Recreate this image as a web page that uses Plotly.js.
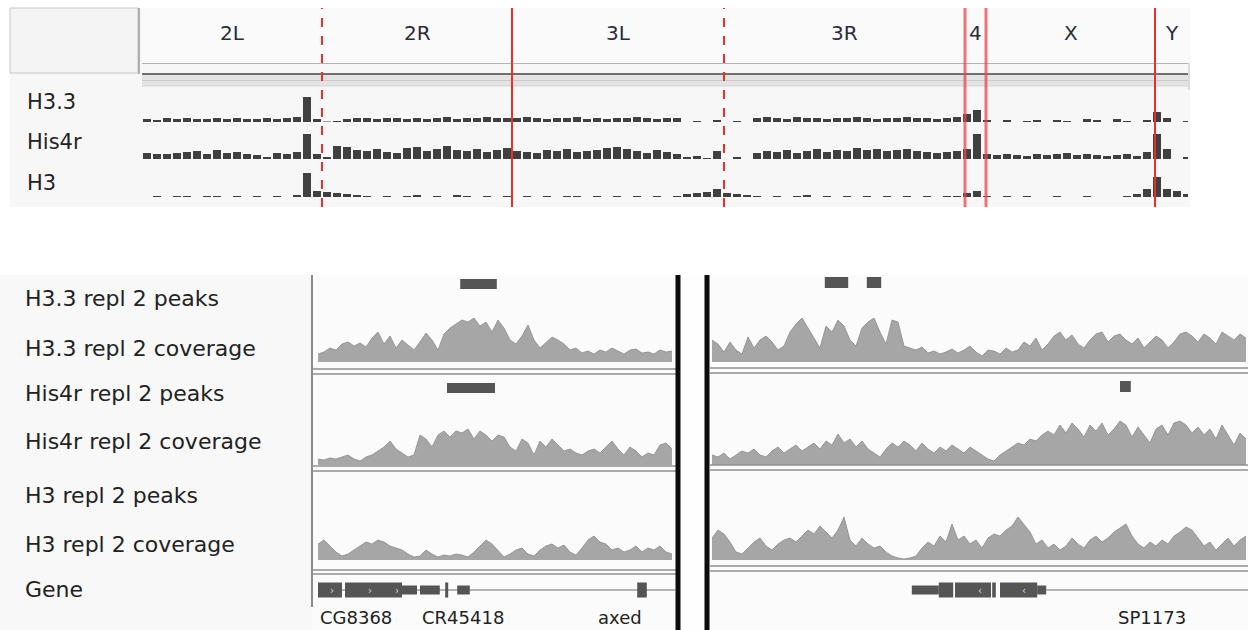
<!DOCTYPE html>
<html><head><meta charset="utf-8">
<script src="https://cdn.plot.ly/plotly-3.0.1.min.js"></script>
<style>html,body{margin:0;padding:0;background:#fff;}#chart{width:1248px;height:630px;}</style>
</head><body><div id="chart"></div>
<script>
// ---------- DATA ----------
const chromNames = ['2L','2R','3L','3R','4','X','Y'];
const chromBounds = [0,180,370,582,823,844,1013,1046];   // genome display units
const genomeTracks = ['H3.3','His4r','H3'];

// genome-wide signal, one value per 10-unit bin
const h33Genome = [3,2,4,3,4,3,3,4,3,4,3,3,4,3,4,5, 25, 3, 0.5,1,
  3,4,4,3,4,4,3,4,3,4,5,3,4,4,5,4,4,
  4,5,4,3,4,4,5,3,4,3,4,4,5,4,3,4,4,
  0,1,0,2,0,1,0,
  4,5,4,3,5,4,4,3,4,4,5,4,3,4,4,5,4,4,3,4,5,
  8,12, 2,
  0,2,0,1,2,0,2,1,0,3,2,0,3,1,0,2,
  10,4,0,1];
const his4rGenome = [6,5,5,6,7,8,5,9,6,7,5,4,2,6,5,7, 25, 5, 2,13,
  12,9,8,10,7,6,11,12,8,10,13,9,8,10,7,9,11,
  8,7,6,9,8,10,7,8,9,11,12,10,8,6,9,7,5,
  2,3,1,8,0,2,0,
  6,8,7,9,6,8,10,7,9,8,11,9,10,8,9,10,8,7,6,7,8,
  10,25, 5,
  4,5,4,3,5,4,5,6,4,5,4,3,4,5,3,7,
  25,10,0,2];
const h3Genome = [0,1,0,1,1,0,1,1,0,1,0,1,0,1,0,2, 24, 6,
  5,4,3,2,1,0,1,0,1,2,0,1,0,2,1,0,1,0,1,
  0,1,0,1,0,1,1,0,1,0,1,0,1,0,1,0,1,
  3,4,5,8, 4,3,2,
  1,0,1,0,1,2,0,1,0,1,0,1,0,1,0,1,0,1,0,1,1,
  4,6, 1,
  0,1,0,1,0,0,1,0,0,1,0,0,0,1,3,8,
  20,8,6,3];

// zoomed loci: coverage per bin (left locus 60 bins, right locus 90 bins)
const h33CovLeft = [8,10,14,12,18,20,16,19,15,24,30,18,26,14,22,17,12,20,29,22,12,28,34,38,42,40,44,36,40,30,42,34,22,18,26,37,22,14,20,25,22,18,12,14,9,11,8,12,10,14,11,8,12,13,9,10,8,12,10,11];
const h33CovRight = [22,18,10,20,12,8,25,14,22,26,20,12,16,30,38,44,34,24,14,36,30,42,36,22,16,34,40,44,30,18,42,40,16,14,12,15,9,11,8,10,13,9,12,16,10,6,12,11,8,14,10,12,20,16,24,12,18,26,30,22,27,18,14,22,28,30,20,26,28,22,18,24,14,20,26,22,14,20,28,30,26,20,28,24,18,30,26,22,28,24];
const his4rCovLeft = [6,5,7,6,8,10,6,4,8,10,14,18,24,16,12,8,10,30,26,18,30,34,28,34,32,36,26,34,30,24,30,28,18,14,26,22,10,24,18,26,20,14,16,12,10,14,16,12,18,24,16,10,18,14,8,12,10,20,22,16];
const his4rCovRight = [10,8,12,6,10,14,12,16,10,8,14,18,12,16,20,14,18,22,16,24,20,31,22,26,18,24,16,12,8,16,22,18,24,20,14,22,16,12,18,14,20,16,12,18,14,10,6,4,10,14,18,22,20,26,24,30,34,30,40,32,42,36,28,40,34,42,30,36,44,40,28,38,30,22,36,40,30,42,44,40,32,38,30,36,26,40,30,20,32,26];
const h3CovLeft = [16,20,14,8,4,6,10,14,18,16,20,18,14,12,10,6,3,4,10,6,3,5,4,6,5,3,8,14,20,16,10,3,6,10,12,6,4,10,14,16,12,15,8,5,12,20,24,18,16,10,12,8,10,14,8,12,10,14,8,6];
const h3CovRight = [22,30,26,18,8,6,12,18,22,14,10,16,20,22,18,24,30,26,34,28,22,30,43,20,14,22,16,12,14,8,4,2,1,2,4,12,18,14,24,18,36,20,24,16,20,12,22,26,24,30,34,43,36,28,16,20,12,16,10,14,22,16,12,20,24,18,22,28,32,36,24,16,12,18,14,20,16,24,28,33,30,22,14,18,10,16,22,14,20,24];

// peaks [start, end] in bin units
const h33PeaksLeft = [[23.7,29.8]];
const h33PeaksRight = [[18.8,22.7],[25.8,28.2]];
const his4rPeaksLeft = [[21.5,29.5]];
const his4rPeaksRight = [[68.0,69.8]];
const h3PeaksLeft = [];
const h3PeaksRight = [];

// gene models [start, end] in bin units
const geneLeftExons = [[0,4],[4.5,14],[21.2,21.7],[53.2,54.8]];
const geneLeftUTR = [[14,16.5],[17,20.3],[23.2,25.3]];
const geneLeftIntron = [0,59.7];
const geneRightExons = [[37.8,40.2],[40.5,46.5],[46.7,47.3],[48,54.2]];
const geneRightUTR = [[33.3,37.8],[54.2,55.7]];
const geneRightIntron = [55.7,89.4];
const geneLeftArrows = [2.3,8.7,13.2];
const geneRightArrows = [44.7,52.0];
const geneNamesLeft = ['CG8368','CR45418','axed'];
const geneNamePosLeft = [6.3,24.2,50.3];
const geneNamesRight = ['SP1173'];
const geneNamePosRight = [73.3];

const trackLabels = ['H3.3 repl 2 peaks','H3.3 repl 2 coverage','His4r repl 2 peaks','His4r repl 2 coverage','H3 repl 2 peaks','H3 repl 2 coverage','Gene'];

// ---------- DRAWING ----------
const W = 1248, H = 630;
const px = x => x / W;
const py = y => 1 - y / H;
const FONT = 'DejaVu Sans, Open Sans, sans-serif';

const traces = [];
const binX = arr => arr.map((_, i) => i * 10 + 5);
const idx = arr => arr.map((_, i) => i);

// top genome tracks
[[h33Genome,'y'],[his4rGenome,'y2'],[h3Genome,'y3']].forEach(([vals, ya]) => {
  traces.push({type:'bar', x: binX(vals), y: vals, xaxis:'x', yaxis: ya,
    marker:{color:'#404040', line:{width:0}}, hoverinfo:'skip'});
});

// coverage tracks
const cov = [
  [h33CovLeft,'x2','y4'],[h33CovRight,'x3','y4'],
  [his4rCovLeft,'x2','y5'],[his4rCovRight,'x3','y5'],
  [h3CovLeft,'x2','y6'],[h3CovRight,'x3','y6']];
cov.forEach(([vals, xa, ya]) => {
  traces.push({type:'scatter', mode:'lines', x: idx(vals), y: vals, xaxis: xa, yaxis: ya,
    line:{color:'#8a8a8a', width:0.8}, fill:'tozeroy', fillcolor:'#a6a6a6', hoverinfo:'skip'});
});

const shapes = [];
const rect = (x0,x1,y0,y1,fill,line,layer) => shapes.push({type:'rect', xref:'paper', yref:'paper',
  x0:px(x0), x1:px(x1), y0:py(y1), y1:py(y0), fillcolor:fill, line: line || {width:0}, layer: layer || 'below'});
const hline = (x0,x1,y,color,w) => shapes.push({type:'line', xref:'paper', yref:'paper',
  x0:px(x0), x1:px(x1), y0:py(y), y1:py(y), line:{color:color, width:w}, layer:'above'});
const vline = (x,y0,y1,color,w,dash) => shapes.push({type:'line', xref:'paper', yref:'paper',
  x0:px(x), x1:px(x), y0:py(y0), y1:py(y1), line:{color:color, width:w, dash: dash||'solid'}, layer:'above'});

// top panel frame
rect(10,1190,8,207,'#f7f7f7');
rect(142,1188,8,63,'#fafafa');
rect(10,138,8,73,'#f4f4f4',{color:'#c6c6c6', width:1});
vline(139,8,74,'#9a9a9a',1.5);
vline(1189,63,90,'#c0c0c0',1);
hline(142,1188,63.5,'#b4b4b4',1);
rect(142,1188,75,86,'#e3e3e3');
hline(142,1188,74,'#6e6e6e',2);
hline(142,1188,80.5,'#cacaca',1);
hline(142,1188,86,'#d6d6d6',1);

// chromosome boundaries
const boundaryDash = ['dash','solid','dash','solid','solid','solid'];
const boundaryColor = ['#e8302a','#e8302a','#e8302a','rgba(236,70,70,0.75)','rgba(236,70,70,0.75)','#e8302a'];
const boundaryWidth = [2,2,2,3,3,2];
for (let i = 1; i < chromBounds.length - 1; i++) {
  shapes.push({type:'line', xref:'x', yref:'paper', x0:chromBounds[i], x1:chromBounds[i],
    y0:py(207), y1:py(8), line:{color:boundaryColor[i-1], width:boundaryWidth[i-1], dash:boundaryDash[i-1]}, layer:'above'});
}

// bottom panel frame
rect(0,1248,275,630,'#f8f8f8');
rect(312,676,275,630,'#fbfbfb');
rect(710,1248,275,630,'#fbfbfb');
rect(681,704,275,630,'#fefefe');
vline(312,275,607,'#8a8a8a',2);
[369,374,466,471,570,574].forEach(y => hline(312,676,y,'#8f8f8f',1.5));
[368,373,465,470,566,571].forEach(y => hline(710,1248,y,'#8f8f8f',1.5));
vline(678,275,630,'#0c0c0c',5);
vline(707,275,630,'#0c0c0c',5);

// peaks
const peakBox = (list, xa, y0, y1) => list.forEach(([s,e]) => shapes.push({type:'rect', xref:xa, yref:'paper',
  x0:s, x1:e, y0:py(y1), y1:py(y0), fillcolor:'#555555', line:{width:0}, layer:'above'}));
peakBox(h33PeaksLeft,'x2',279,289);
peakBox(h33PeaksRight,'x3',277,288);
peakBox(his4rPeaksLeft,'x2',383,393);
peakBox(his4rPeaksRight,'x3',381,392);
peakBox(h3PeaksLeft,'x2',484,494);
peakBox(h3PeaksRight,'x3',484,494);

// gene models
const geneDraw = (intron, utr, exons, xa, yc) => {
  shapes.push({type:'line', xref:xa, yref:'paper', x0:intron[0], x1:intron[1], y0:py(yc), y1:py(yc),
    line:{color:'#6a6a6a', width:1}, layer:'above'});
  utr.forEach(([s,e]) => shapes.push({type:'rect', xref:xa, yref:'paper', x0:s, x1:e, y0:py(yc+4.5), y1:py(yc-4.5),
    fillcolor:'#555555', line:{width:0}, layer:'above'}));
  exons.forEach(([s,e]) => shapes.push({type:'rect', xref:xa, yref:'paper', x0:s, x1:e, y0:py(yc+7.5), y1:py(yc-7.5),
    fillcolor:'#555555', line:{width:0}, layer:'above'}));
};
geneDraw(geneLeftIntron, geneLeftUTR, geneLeftExons, 'x2', 590);
geneDraw(geneRightIntron, geneRightUTR, geneRightExons, 'x3', 590);

// annotations
const annotations = [];
const ann = (text, x, y, opts) => annotations.push(Object.assign({text, x, y, xref:'paper', yref:'paper',
  showarrow:false, xanchor:'left', yanchor:'middle', font:{family:FONT, size:22, color:'#222'}}, opts||{}));

chromNames.forEach((n, i) => annotations.push({text:n, xref:'x', yref:'paper',
  x:(chromBounds[i]+chromBounds[i+1])/2, y:py(33), showarrow:false, xanchor:'center', yanchor:'middle',
  font:{family:FONT, size:20, color:'#2b2b3a'}}));
const genomeLabelY = [102,142,183];
genomeTracks.forEach((t, i) => ann(t, px(25), py(genomeLabelY[i]), {font:{family:FONT, size:21, color:'#222'}}));

const trackLabelY = [298,348,393,442,495,544,589];
trackLabels.forEach((t, i) => ann(t, px(23), py(trackLabelY[i])));

geneNamesLeft.forEach((g, i) => annotations.push({text:g, xref:'x2', yref:'paper', x:geneNamePosLeft[i], y:py(630),
  showarrow:false, xanchor:'center', yanchor:'bottom', font:{family:FONT, size:18, color:'#222'}}));
geneNamesRight.forEach((g, i) => annotations.push({text:g, xref:'x3', yref:'paper', x:geneNamePosRight[i], y:py(630),
  showarrow:false, xanchor:'center', yanchor:'bottom', font:{family:FONT, size:18, color:'#222'}}));
geneLeftArrows.forEach(x => annotations.push({text:'›', xref:'x2', yref:'paper', x:x, y:py(590), showarrow:false,
  xanchor:'center', yanchor:'middle', font:{family:FONT, size:10, color:'#dddddd'}}));
geneRightArrows.forEach(x => annotations.push({text:'‹', xref:'x3', yref:'paper', x:x, y:py(590), showarrow:false,
  xanchor:'center', yanchor:'middle', font:{family:FONT, size:10, color:'#dddddd'}}));

const hidden = (extra) => Object.assign({visible:false, showgrid:false, zeroline:false, fixedrange:true}, extra);

const layout = {
  width: W, height: H, margin:{l:0,r:0,t:0,b:0},
  paper_bgcolor:'#ffffff', plot_bgcolor:'rgba(0,0,0,0)', showlegend:false, bargap:0.2,
  xaxis: hidden({domain:[px(142), px(1188)], range:[0,1046], anchor:'y'}),
  yaxis: hidden({domain:[py(122), py(92)], range:[0,30], anchor:'x'}),
  yaxis2: hidden({domain:[py(159), py(129)], range:[0,30], anchor:'x'}),
  yaxis3: hidden({domain:[py(197), py(167)], range:[0,30], anchor:'x'}),
  xaxis2: hidden({domain:[px(313), px(676)], range:[-0.833, 59.667], anchor:'y4'}),
  xaxis3: hidden({domain:[px(710), px(1248)], range:[-0.333, 89.333], anchor:'y4'}),
  yaxis4: hidden({domain:[py(362), py(312)], range:[0,50], anchor:'x2'}),
  yaxis5: hidden({domain:[py(465), py(415)], range:[0,50], anchor:'x2'}),
  yaxis6: hidden({domain:[py(560), py(510)], range:[0,50], anchor:'x2'}),
  shapes, annotations
};

Plotly.newPlot('chart', traces, layout, {staticPlot:true, displayModeBar:false});
</script></body></html>
